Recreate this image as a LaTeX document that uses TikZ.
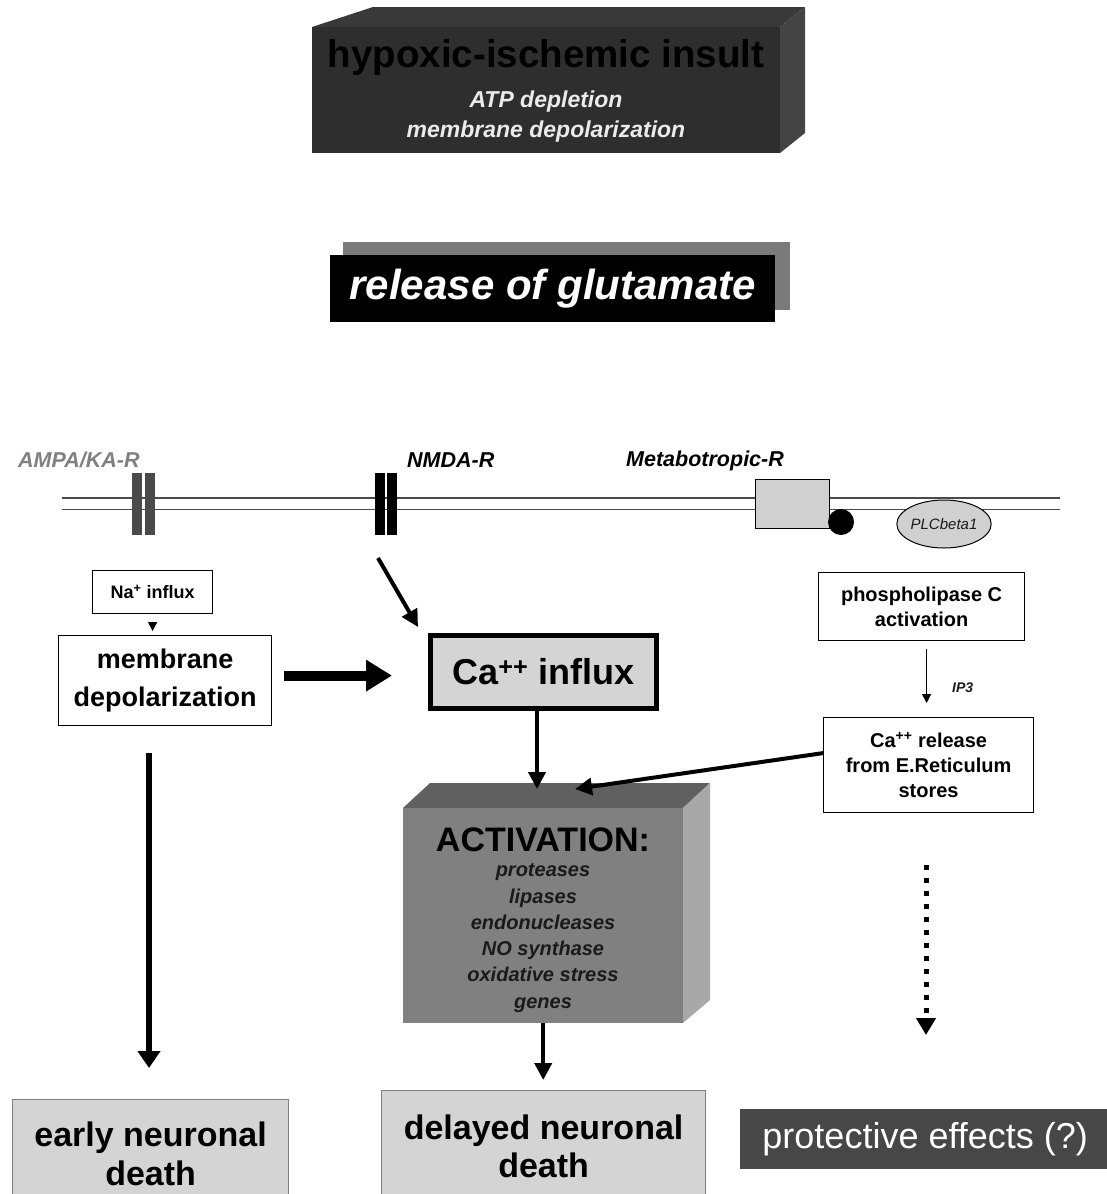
\documentclass[tikz,border=0pt]{standalone}
\usepackage{fontspec}
\setmainfont{Liberation Sans}
\usetikzlibrary{arrows.meta,calc,positioning,shapes.geometric}
\definecolor{insultfront}{HTML}{2E2E2E}
\definecolor{insulttop}{HTML}{393939}
\definecolor{insultside}{HTML}{444444}
\definecolor{glushade}{HTML}{7A7A7A}
\definecolor{boxgray}{HTML}{D4D4D4}
\definecolor{recgray}{HTML}{D0D0D0}
\definecolor{actfront}{HTML}{808080}
\definecolor{acttop}{HTML}{606060}
\definecolor{actside}{HTML}{A8A8A8}
\definecolor{protgray}{HTML}{474747}
\definecolor{memgray}{HTML}{4A4A4A}
\definecolor{ampagray}{HTML}{4A4A4A}
\definecolor{inktext}{HTML}{1A1A1A}
\newcommand{\fsz}[2]{\fontsize{#1}{#2}\selectfont}

\begin{document}
\begin{tikzpicture}[x=1pt,y=-1pt,
  plain/.style={inner sep=0pt,align=center},
  flowbox/.style={draw,line width=1.2pt,inner sep=0pt,align=center,anchor=north west},
  deathbox/.style={draw=gray,fill=boxgray,line width=1.2pt,inner sep=0pt,align=center,anchor=north west,font=\bfseries\fsz{34}{39}},
  rlabel/.style={inner sep=0pt,anchor=west,font=\bfseries\itshape\fsz{21.5}{24}},
  bar/.style={inner sep=0pt,minimum width=10pt,minimum height=62pt},
  memline/.style={memgray,line width=1.6pt},
  arr/.style={line width=4pt,-{Triangle[width=17pt,length=17pt]}},
  bigarr/.style={line width=10pt,-{Triangle[width=30pt,length=26pt]}},
  longarr/.style={line width=6pt,-{Triangle[width=22pt,length=17pt]}},
  dotarr/.style={line width=5pt,dash pattern=on 5pt off 8pt,-{Triangle[width=19pt,length=17pt]}},
  thinarr/.style={line width=1.3pt,-{Triangle[width=9pt,length=9pt]}}]
\useasboundingbox (0,0) rectangle (1107,1194);

\fill [insulttop] (312,27) -- (373,7) -- (805,7) -- (780,27) -- cycle;
\fill [insultside] (780,27) -- (805,7) -- (805,133) -- (780,153) -- cycle;
\node [fill=insultfront,inner sep=0pt,minimum width=468pt,minimum height=126pt,anchor=north west] (insult) at (312,27) {};
\node [plain,font=\bfseries\fsz{38.5}{44}] (insulttitle) at (546,58) {hypoxic-ischemic insult};
\node [plain,text=white!92!black,font=\bfseries\itshape\fsz{23}{30}] (insultsub) at (546,117) {ATP depletion\\membrane depolarization};

\node [fill=glushade,inner sep=0pt,minimum width=447pt,minimum height=68pt,anchor=north west] (glushadow) at (343,242) {};
\node [fill=black,inner sep=0pt,minimum width=445pt,minimum height=67pt,anchor=north west,text=white,font=\bfseries\itshape\fsz{42}{46}] (glutamate) at (330,255) {release of glutamate};

\draw [memline] (62,498) -- (1060,498);
\draw [memline] (62,509.5) -- (1060,509.5);

\node [bar,fill=ampagray] (ampa1) at (137,504) {};
\node [bar,fill=ampagray] (ampa2) at (149.5,504) {};
\node [bar,fill=black] (nmda1) at (379.5,504) {};
\node [bar,fill=black] (nmda2) at (391.5,504) {};
\node [draw,fill=recgray,line width=1.2pt,inner sep=0pt,minimum width=74pt,minimum height=49pt,anchor=north west] (mglur) at (755,479) {};
\node [circle,fill=black,inner sep=0pt,minimum size=26pt] (gprot) at (841,522) {};
\node [ellipse,draw,fill=recgray,line width=1pt,inner sep=0pt,minimum width=88pt,minimum height=48pt,text=inktext,font=\itshape\fsz{15}{17}] (plcb) at (944,524) {PLCbeta1};

\node [rlabel,text=gray] (ampalabel) at (18,460) {AMPA/KA-R};
\node [rlabel] (nmdalabel) at (407,460) {NMDA-R};
\node [rlabel] (mglurlabel) at (626,461) {Metabotropic-R};

\node [flowbox,minimum width=120pt,minimum height=43pt,font=\bfseries\fsz{18}{20}] (na) at (92,570) {Na\textsuperscript{+} influx};
\node [flowbox,minimum width=213pt,minimum height=90pt,font=\bfseries\fsz{27}{38}] (depol) at (58,635) {membrane\\depolarization};
\node [flowbox,fill=boxgray,line width=4.5pt,minimum width=226pt,minimum height=73pt,font=\bfseries\fsz{36}{40}] (ca) at (428,633) {Ca\textsuperscript{++} influx};
\node [flowbox,minimum width=206pt,minimum height=68pt,font=\bfseries\fsz{20}{25}] (plc) at (818,572) {phospholipase C\\activation};
\node [flowbox,minimum width=210pt,minimum height=95pt,font=\bfseries\fsz{20}{25}] (rel) at (823,717) {Ca\textsuperscript{++} release\\from E.Reticulum\\stores};
\node [plain,anchor=west,text=inktext,font=\bfseries\itshape\fsz{14}{16}] (ip3) at (952,688) {IP3};

\fill [acttop] (403,808) -- (430,783) -- (710,783) -- (683,808) -- cycle;
\fill [actside] (683,808) -- (710,783) -- (710,1000) -- (683,1023) -- cycle;
\node [fill=actfront,inner sep=0pt,minimum width=280pt,minimum height=215pt,anchor=north west] (act) at (403,808) {};
\node [plain,font=\bfseries\fsz{34}{38}] (acttitle) at (543,840) {ACTIVATION:};
\node [plain,text=inktext,font=\bfseries\itshape\fsz{20}{26.3}] (actlist) at (543,938) {proteases\\lipases\\endonucleases\\NO synthase\\oxidative stress\\genes};

\node [deathbox,minimum width=276pt,minimum height=108pt] (early) at (12,1099) {early neuronal\\death};
\node [deathbox,minimum width=324pt,minimum height=112pt,font=\bfseries\fsz{34}{38}] (delayed) at (381,1090) {delayed neuronal\\death};
\node [fill=protgray,inner sep=0pt,minimum width=370pt,minimum height=60pt,anchor=north west,text=white,font=\fsz{36}{40}] (protect) at (740,1109) {protective effects (?)};

\coordinate (nmdafoot) at (378,558);
\coordinate (leftfoot) at (149,753);
\coordinate (dotfoot) at (926,865);
\coordinate (actin) at (537,789);
\coordinate (actin2) at (575,789);

\draw [thinarr,shorten <=9pt,shorten >=4pt] (na.south) -- (na.south |- depol.north);
\draw [bigarr,shorten <=12pt,shorten >=36pt] ([yshift=5pt]depol.east) -- ([yshift=5pt]depol.east -| ca.west);
\draw [arr] (nmdafoot) -- ([xshift=-10pt,yshift=6pt]ca.north west);
\draw [arr] (ca.south -| actin) -- (actin);
\draw [thinarr,shorten <=8pt,shorten >=14pt] ([xshift=5pt]plc.south) -- ([xshift=5pt]plc.south |- rel.north);
\draw [arr] ([yshift=12pt]rel.west) -- (actin2);
\draw [arr,shorten >=10pt] (act.south) -- (act.south |- delayed.north);
\draw [longarr,shorten >=31pt] (leftfoot) -- (leftfoot |- early.north);
\draw [dotarr,shorten >=74pt] (dotfoot) -- (dotfoot |- protect.north);
\end{tikzpicture}
\end{document}
